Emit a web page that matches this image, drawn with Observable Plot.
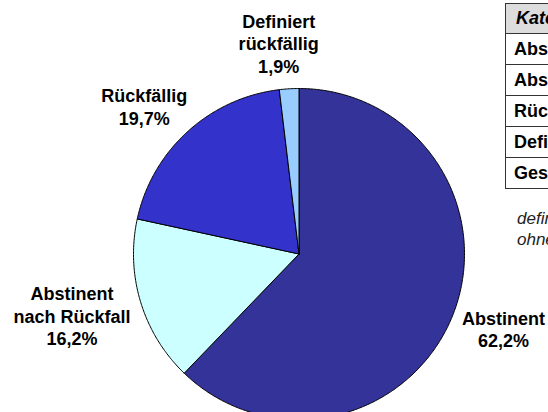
<!DOCTYPE html>
<html>
<head>
<meta charset="utf-8">
<script src="https://cdn.jsdelivr.net/npm/d3@7"></script>
<script src="https://cdn.jsdelivr.net/npm/@observablehq/plot@0.6"></script>
<style>
  html, body { margin: 0; padding: 0; background: #fff; }
  #wrap { position: relative; width: 548px; height: 412px; overflow: hidden; font-family: Arial, "Liberation Sans", sans-serif; }
  #chart { position: absolute; left: 0; top: 0; }
  #tbl { position: absolute; left: 505px; top: 3px; border-collapse: collapse; border: 1.5px solid #333; }
  #tbl td, #tbl th { border: 1px solid #333; height: 30px; padding: 0 10px 0 8px; font: bold 18px Arial, "Liberation Sans", sans-serif; text-align: left; white-space: nowrap; color: #000; }
  #tbl th { background: #dddddd; font-style: italic; height: 29px; padding-left: 10px; }
  #note { position: absolute; left: 517px; top: 208px; font: italic 17px Arial, "Liberation Sans", sans-serif; line-height: 21px; color: #222; white-space: nowrap; }
</style>
</head>
<body>
<div id="wrap">
  <div id="chart"></div>
  <table id="tbl"></table>
  <div id="note"></div>
</div>
<script>
// ---- data ----
const categories = ["Abstinent", "Abstinent nach Rückfall", "Rückfällig", "Definiert rückfällig"];
const labelLines = [["Abstinent"], ["Abstinent", "nach Rückfall"], ["Rückfällig"], ["Definiert", "rückfällig"]];
const values = [62.2, 16.2, 19.7, 1.9];
const colors = ["#333399", "#ccffff", "#3333cc", "#99ccff"];
const tableHeader = "Kategorie";
const tableRows = ["Abstinent", "Abstinent nach Rückfall", "Rückfällig", "Definiert rückfällig", "Gesamt"];
const noteLines = ["definiert rückfällig = Patienten", "ohne Katamnese"];

// ---- layout ----
const W = 548, H = 412;
const cx = 298.5, cy = 253.5, R = 165.5;
const fontSize = 18, lineHeight = 1.25;

const pie = d3.pie().sort(null).value(d => d)(values);

// slice polygons in unit coordinates (y downward)
const slicePts = [];
pie.forEach((p, i) => {
  slicePts.push({cat: categories[i], x: 0, y: 0});
  const n = Math.max(2, Math.ceil((p.endAngle - p.startAngle) / (Math.PI / 360)));
  for (let k = 0; k <= n; k++) {
    const a = p.startAngle + (p.endAngle - p.startAngle) * k / n;
    slicePts.push({cat: categories[i], x: Math.sin(a), y: -Math.cos(a)});
  }
  slicePts.push({cat: categories[i], x: 0, y: 0});
});

// label placement outside the pie
const ctx = document.createElement("canvas").getContext("2d");
ctx.font = `bold ${fontSize}px Arial, "Liberation Sans", sans-serif`;
const gap = 12;
const labels = pie.map((p, i) => {
  const lines = [...labelLines[i], values[i].toFixed(1).replace(".", ",") + "%"];
  const w = Math.max(...lines.map(l => ctx.measureText(l).width)) / 2;
  const h = lines.length * fontSize * lineHeight / 2;
  const a = (p.startAngle + p.endAngle) / 2;
  const ux = Math.sin(a), uy = -Math.cos(a);
  return {
    text: lines.join("\n"),
    x: ((R + gap) * ux + Math.sign(ux) * Math.sqrt(Math.abs(ux)) * w) / R,
    y: ((R + gap) * uy + uy * h) / R
  };
});

const chart = Plot.plot({
  width: W, height: H,
  margin: 0,
  x: {domain: [-cx / R, (W - cx) / R], range: [0, W], axis: null},
  y: {domain: [-cy / R, (H - cy) / R], range: [0, H], axis: null},
  color: {domain: categories, range: colors},
  style: {background: "white"},
  marks: [
    Plot.line(slicePts, {x: "x", y: "y", z: "cat", fill: "cat", stroke: "#000", strokeWidth: 1, curve: "linear"}),
    Plot.text(labels, {x: "x", y: "y", text: "text", fontSize, fontWeight: "bold", lineHeight, fontFamily: "Arial, 'Liberation Sans', sans-serif", fill: "#000", textAnchor: "middle"})
  ]
});
document.getElementById("chart").appendChild(chart);

// table
const tbl = document.getElementById("tbl");
const hr = tbl.insertRow();
const th = document.createElement("th");
th.textContent = tableHeader;
hr.appendChild(th);
tableRows.forEach(r => { tbl.insertRow().insertCell().textContent = r; });
document.getElementById("note").innerHTML = noteLines.join("<br>");
</script>
</body>
</html>
